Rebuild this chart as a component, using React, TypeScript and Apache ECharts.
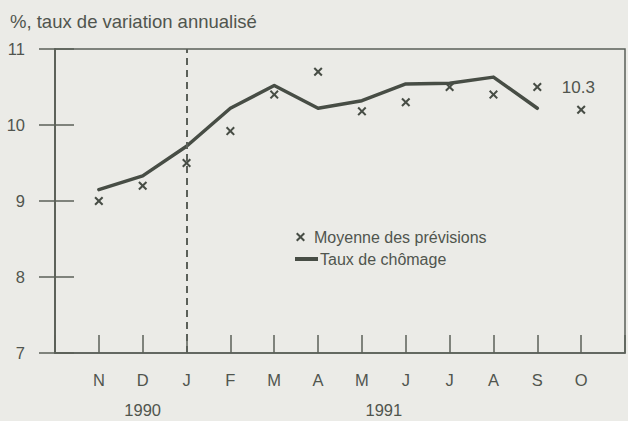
import React, { useEffect, useRef } from "react";
import * as echarts from "echarts";

const months = ["N", "D", "J", "F", "M", "A", "M", "J", "J", "A", "S", "O"];
const yearLabels = ["1990", "1991"];
const yearPositions = [2, 7.5];
const unemployment = [9.15, 9.33, 9.72, 10.22, 10.52, 10.22, 10.32, 10.54, 10.55, 10.63, 10.22];
const forecasts = [9.0, 9.2, 9.5, 9.92, 10.4, 10.7, 10.18, 10.3, 10.5, 10.4, 10.5, 10.2];
const annotatedIndex = 10;
const annotationText = "10.3";
const yTicks = [7, 8, 9, 10, 11];

const FONT = "'Liberation Sans', Arial, Helvetica, sans-serif";
const TXT = "#50554e";
const AX = "#5b6059";
const LINE = "#474d45";
const CROSS =
  "path://M0,1.6L1.6,0L5,3.4L8.4,0L10,1.6L6.6,5L10,8.4L8.4,10L5,6.6L1.6,10L0,8.4L3.4,5Z";

export default function App() {
  const ref = useRef<HTMLDivElement>(null);
  useEffect(() => {
    if (!ref.current) return;
    const chart = echarts.init(ref.current, undefined, { renderer: "svg" });
    const lineData = unemployment.map((v, i) => [i + 1, v]);
    const crossData = forecasts.map((v, i) =>
      i === annotatedIndex
        ? {
            value: [i + 1, v],
            label: {
              show: true,
              formatter: annotationText,
              position: "right",
              distance: 20,
              fontSize: 17,
              color: TXT,
              fontFamily: FONT,
            },
          }
        : { value: [i + 1, v] }
    );
    chart.setOption({
      animation: false,
      backgroundColor: "#ebebe7",
      textStyle: { fontFamily: FONT, color: TXT },
      title: {
        text: "%, taux de variation annualisé",
        left: 5,
        top: 7,
        textStyle: { fontSize: 18.5, fontWeight: "normal", color: TXT, fontFamily: FONT },
      },
      legend: [
        {
          data: [{ name: "Moyenne des prévisions", icon: CROSS }],
          left: 291,
          top: 224,
          itemWidth: 9,
          itemHeight: 9,
          selectedMode: false,
          textStyle: { fontSize: 16, color: TXT, fontFamily: FONT, padding: [0, 0, 0, 4] },
          itemStyle: { color: LINE },
        },
        {
          data: [{ name: "Taux de chômage", icon: "rect" }],
          left: 290,
          top: 246,
          itemWidth: 23,
          itemHeight: 4,
          selectedMode: false,
          textStyle: { fontSize: 16, color: TXT, fontFamily: FONT, padding: [0, 0, 0, -3] },
          itemStyle: { color: LINE },
        },
      ],
      grid: {
        left: 55,
        right: 2,
        top: 49,
        bottom: 68,
        show: true,
        borderColor: AX,
        borderWidth: 1.5,
        backgroundColor: "transparent",
      },
      xAxis: [
        {
          type: "value",
          min: 0,
          max: 13,
          interval: 1,
          position: "bottom",
          axisLine: { show: true, lineStyle: { color: AX, width: 1.5 } },
          axisTick: { show: true, inside: true, length: 18, lineStyle: { color: AX, width: 1.5 } },
          splitLine: { show: false },
          axisLabel: {
            margin: 18,
            fontSize: 16.5,
            color: TXT,
            fontFamily: FONT,
            formatter: (v: number) => (v >= 1 && v <= months.length ? months[v - 1] : ""),
          },
        },
        {
          type: "value",
          min: 0,
          max: 13,
          interval: 0.5,
          position: "bottom",
          offset: 30,
          axisLine: { show: false },
          axisTick: { show: false },
          splitLine: { show: false },
          axisLabel: {
            margin: 18,
            fontSize: 16.5,
            color: TXT,
            fontFamily: FONT,
            formatter: (v: number) => {
              const k = yearPositions.indexOf(v);
              return k >= 0 ? yearLabels[k] : "";
            },
          },
        },
      ],
      yAxis: [
        {
          type: "value",
          min: yTicks[0],
          max: yTicks[yTicks.length - 1],
          interval: 1,
          position: "left",
          axisLine: { show: true, lineStyle: { color: AX, width: 1.5 } },
          axisTick: { show: true, inside: true, length: 19, lineStyle: { color: AX, width: 1.5 } },
          splitLine: { show: false },
          axisLabel: { margin: 30, fontSize: 16.5, color: TXT, fontFamily: FONT },
        },
        {
          type: "value",
          min: yTicks[0],
          max: yTicks[yTicks.length - 1],
          interval: 1,
          position: "right",
          axisLine: { show: true, lineStyle: { color: AX, width: 1.5 } },
          axisTick: { show: true, inside: true, length: 16, lineStyle: { color: AX, width: 1.5 } },
          splitLine: { show: false },
          axisLabel: { show: false },
        },
      ],
      series: [
        {
          name: "Taux de chômage",
          type: "line",
          data: lineData,
          symbol: "none",
          lineStyle: { color: LINE, width: 3.5, cap: "round", join: "round" },
          itemStyle: { color: LINE },
          markLine: {
            silent: true,
            symbol: "none",
            label: { show: false },
            lineStyle: { color: AX, type: [7, 5], width: 2 },
            data: [{ xAxis: 3 }],
          },
          z: 3,
        },
        {
          name: "Moyenne des prévisions",
          type: "scatter",
          data: crossData,
          symbol: CROSS,
          symbolSize: 9,
          itemStyle: { color: LINE, opacity: 1 },
          z: 4,
        },
      ],
    });
    return () => chart.dispose();
  }, []);
  return (
    <div
      ref={ref}
      style={{ position: "absolute", left: 0, top: 0, width: 628, height: 421 }}
    />
  );
}
